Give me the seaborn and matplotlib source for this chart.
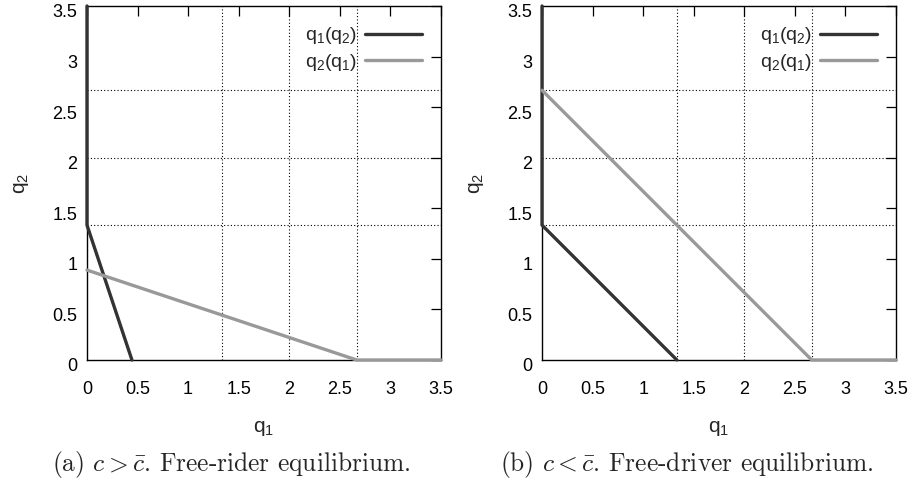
import matplotlib
matplotlib.use('Agg')
import matplotlib.pyplot as plt
import matplotlib.transforms as mtransforms
import seaborn as sns

# Best-response curves
# (a) free-rider case
a_q1_of_q2_x = [0.0, 0.0, 4 / 9]
a_q1_of_q2_y = [3.5, 4 / 3, 0.0]
a_q2_of_q1_x = [0.0, 8 / 3, 3.5]
a_q2_of_q1_y = [8 / 9, 0.0, 0.0]

# (b) free-driver case
b_q1_of_q2_x = [0.0, 0.0, 4 / 3]
b_q1_of_q2_y = [3.5, 4 / 3, 0.0]
b_q2_of_q1_x = [0.0, 8 / 3, 3.5]
b_q2_of_q1_y = [8 / 3, 0.0, 0.0]

grid_lines = [4 / 3, 2.0, 8 / 3]
ticks = [0, 0.5, 1, 1.5, 2, 2.5, 3, 3.5]
tick_labels = ["0", "0.5", "1", "1.5", "2", "2.5", "3", "3.5"]

captions = [r"(a) $c > \bar{c}$. Free-rider equilibrium.",
            r"(b) $c < \bar{c}$. Free-driver equilibrium."]
caption_x = [0.254, 0.755]

q1_label = r"q$_\mathregular{1}$"
q2_label = r"q$_\mathregular{2}$"
legend_labels = [r"q$_\mathregular{1}$(q$_\mathregular{2}$)",
                 r"q$_\mathregular{2}$(q$_\mathregular{1}$)"]

DARK = "#333333"
LIGHT = "#999999"

sns.set_style("white")
plt.rcParams['font.family'] = ['Liberation Sans', 'DejaVu Sans']

fig = plt.figure(figsize=(9.09, 4.87), dpi=100)
positions = [[0.0957, 0.2608, 0.3894, 0.7269],
             [0.5963, 0.2608, 0.3894, 0.7269]]
panels = [(a_q1_of_q2_x, a_q1_of_q2_y, a_q2_of_q1_x, a_q2_of_q1_y),
          (b_q1_of_q2_x, b_q1_of_q2_y, b_q2_of_q1_x, b_q2_of_q1_y)]

# gnuplot draws y tick labels a little below their ticks
shift_down = mtransforms.ScaledTranslation(0, -0.05, fig.dpi_scale_trans)

for pos, (x1, y1, x2, y2), cap, cx in zip(positions, panels, captions, caption_x):
    ax = fig.add_axes(pos)
    for g in grid_lines:
        ax.axvline(g, color="black", lw=0.8, ls=(0, (1, 2)), zorder=1)
        ax.axhline(g, color="black", lw=0.8, ls=(0, (1, 2)), zorder=1)

    sns.lineplot(x=x1, y=y1, ax=ax, sort=False, estimator=None, color=DARK,
                 lw=2.4, label=legend_labels[0], zorder=3, clip_on=False)
    sns.lineplot(x=x2, y=y2, ax=ax, sort=False, estimator=None, color=LIGHT,
                 lw=2.4, label=legend_labels[1], zorder=3, clip_on=False)

    ax.set_xlim(0, 3.5)
    ax.set_ylim(0, 3.5)
    ax.set_xticks(ticks)
    ax.set_xticklabels(tick_labels)
    ax.set_yticks(ticks)
    ax.set_yticklabels(tick_labels)
    ax.tick_params(axis="both", direction="in", length=7, width=0.9,
                   top=True, right=True, labelsize=13, colors="black")
    ax.tick_params(axis="x", pad=15)
    ax.tick_params(axis="y", pad=7)
    for lab in ax.get_yticklabels():
        lab.set_transform(lab.get_transform() + shift_down)
    for s in ax.spines.values():
        s.set_color("black")
        s.set_linewidth(1.0)

    ax.set_xlabel(q1_label, fontsize=15, labelpad=15)
    ax.set_ylabel(q2_label, fontsize=15, labelpad=15)

    ax.legend(loc="upper right", frameon=False, markerfirst=False,
              fontsize=14, handlelength=2.9, handletextpad=0.4,
              labelspacing=0.3, borderaxespad=0.6)

    fig.text(cx, 1 - 465 / 487, cap, ha="center", va="center",
             fontsize=18.3, family=["cmr10", "DejaVu Serif"], math_fontfamily="cm")

fig.savefig("out.png", dpi=100)
